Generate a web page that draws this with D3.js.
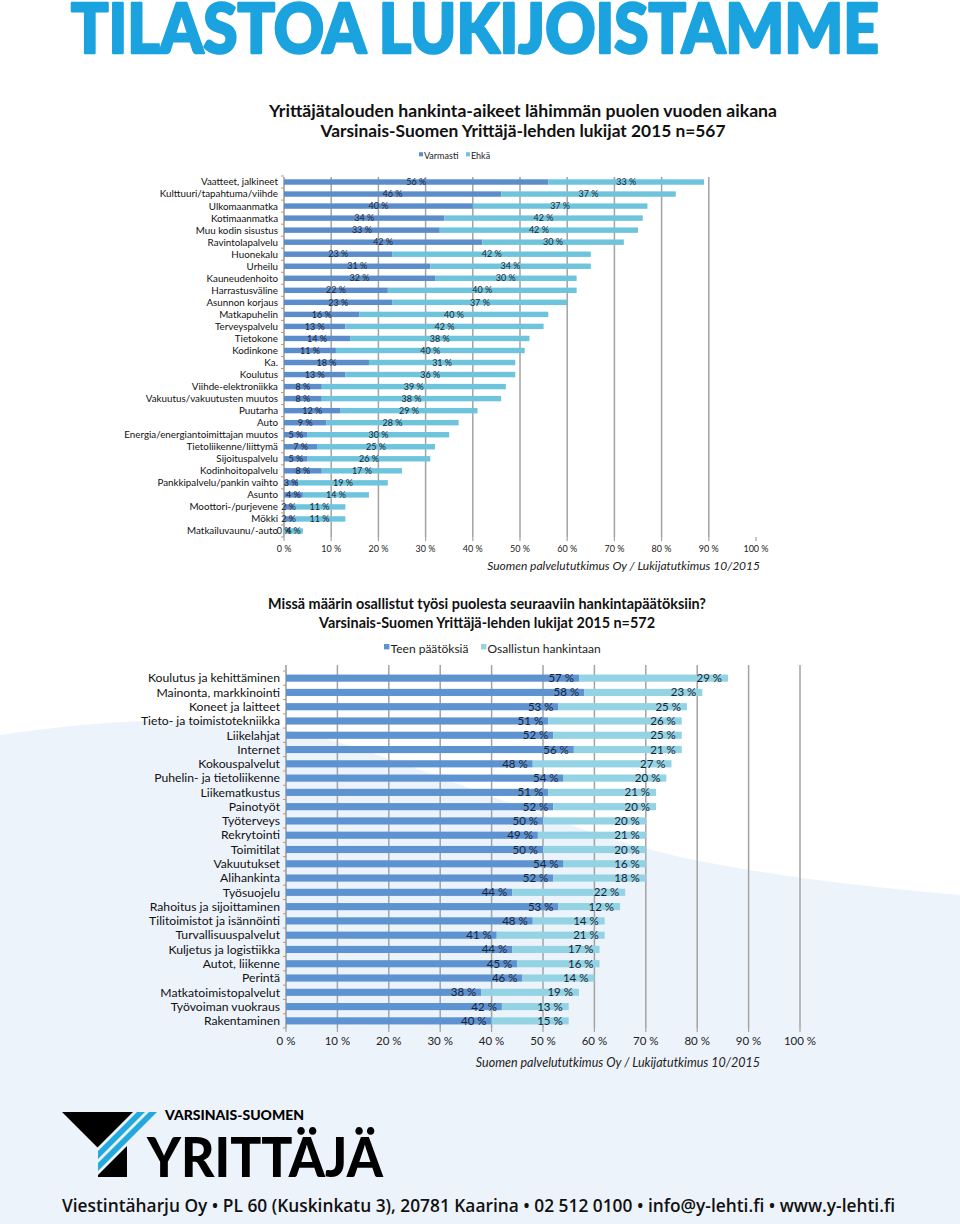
<!DOCTYPE html>
<html><head><meta charset="utf-8">
<script src="https://d3js.org/d3.v7.min.js"></script>
<style>
html,body{margin:0;padding:0;background:#fff;}
svg{display:block;}
</style></head>
<body>
<svg id="c" width="960" height="1224"></svg>
<script>
// ---------- DATA ----------
const cats1 = ["Vaatteet, jalkineet","Kulttuuri/tapahtuma/viihde","Ulkomaanmatka","Kotimaanmatka","Muu kodin sisustus","Ravintolapalvelu","Huonekalu","Urheilu","Kauneudenhoito","Harrastusväline","Asunnon korjaus","Matkapuhelin","Terveyspalvelu","Tietokone","Kodinkone","Ka.","Koulutus","Viihde-elektroniikka","Vakuutus/vakuutusten muutos","Puutarha","Auto","Energia/energiantoimittajan muutos","Tietoliikenne/liittymä","Sijoituspalvelu","Kodinhoitopalvelu","Pankkipalvelu/pankin vaihto","Asunto","Moottori-/purjevene","Mökki","Matkailuvaunu/-auto"];
const varmasti = [56,46,40,34,33,42,23,31,32,22,23,16,13,14,11,18,13,8,8,12,9,5,7,5,8,3,4,2,2,0];
const ehka     = [33,37,37,42,42,30,42,34,30,40,37,40,42,38,40,31,36,39,38,29,28,30,25,26,17,19,14,11,11,4];

const cats2 = ["Koulutus ja kehittäminen","Mainonta, markkinointi","Koneet ja laitteet","Tieto- ja toimistotekniikka","Liikelahjat","Internet","Kokouspalvelut","Puhelin- ja tietoliikenne","Liikematkustus","Painotyöt","Työterveys","Rekrytointi","Toimitilat","Vakuutukset","Alihankinta","Työsuojelu","Rahoitus ja sijoittaminen","Tilitoimistot ja isännöinti","Turvallisuuspalvelut","Kuljetus ja logistiikka","Autot, liikenne","Perintä","Matkatoimistopalvelut","Työvoiman vuokraus","Rakentaminen"];
const teen       = [57,58,53,51,52,56,48,54,51,52,50,49,50,54,52,44,53,48,41,44,45,46,38,42,40];
const osallistun = [29,23,25,26,25,21,27,20,21,20,20,21,20,16,18,22,12,14,21,17,16,14,19,13,15];

const tickValues = [0,10,20,30,40,50,60,70,80,90,100];
const tickLabels = ["0 %","10 %","20 %","30 %","40 %","50 %","60 %","70 %","80 %","90 %","100 %"];

const series1 = ["Varmasti","Ehkä"];
const series2 = ["Teen päätöksiä","Osallistun hankintaan"];
const source = "Suomen palvelututkimus Oy / Lukijatutkimus 10/2015";

// ---------- DRAW ----------
const svg = d3.select("#c");
const FONT = "Lato, 'Open Sans', sans-serif";
const TXT = "#1b2433";

// background
svg.append("rect").attr("width",960).attr("height",1224).attr("fill","#ffffff");
svg.append("path")
  .attr("d","M0,735 C120,718 230,712 330,740 C450,775 560,830 680,857 C780,878 880,888 960,895 L960,1224 L0,1224 Z")
  .attr("fill","#edf3fb");

// main heading
svg.append("text").attr("x",71).attr("y",53)
  .attr("textLength",808).attr("lengthAdjust","spacingAndGlyphs")
  .attr("font-family","Lato, Inter, sans-serif").attr("font-weight",900)
  .attr("font-size",68).attr("fill","#1aa3df")
  .attr("stroke","#1aa3df").attr("stroke-width",2.6).attr("stroke-linejoin","round")
  .text("TILASTOA LUKIJOISTAMME");

function titleLine(x, y, w, t, fs){
  svg.append("text").attr("x",x).attr("y",y).attr("text-anchor","middle")
    .attr("textLength",w).attr("lengthAdjust","spacingAndGlyphs")
    .attr("font-family",FONT).attr("font-weight",700).attr("font-size",fs)
    .attr("fill","#111").text(t);
}

function legend(y, items, xs, colors, size){
  items.forEach((it,i)=>{
    svg.append("rect").attr("x",xs[i]).attr("y",y-size*0.75).attr("width",size*0.45).attr("height",size*0.45).attr("fill",colors[i]);
    svg.append("text").attr("x",xs[i]+size*0.55).attr("y",y).attr("font-family",FONT)
      .attr("font-size",size).attr("fill","#222").text(it);
  });
}

function chart(opts){
  const {cats, a, b, x0, x1, y0, y1, colA, colB, labelFont, valFont, gridFrom, labelMode, tickY, tickFont, gridTop} = opts;
  const x = d3.scaleLinear().domain([0,100]).range([x0,x1]);
  const y = d3.scaleBand().domain(cats).range([y0,y1]).paddingInner(opts.pad).paddingOuter(opts.pad/2);
  const g = svg.append("g");
  // gridlines
  g.selectAll("line.grid").data(tickValues.filter(v=>v>=gridFrom && v<=opts.gridTo)).join("line")
    .attr("x1",d=>x(d)).attr("x2",d=>x(d)).attr("y1",gridTop).attr("y2",y1)
    .attr("stroke","#a3a3a3").attr("stroke-width",1.5);
  // bottom ticks
  g.selectAll("line.bt").data(tickValues).join("line")
    .attr("x1",d=>x(d)).attr("x2",d=>x(d)).attr("y1",y1).attr("y2",y1+4)
    .attr("stroke","#a3a3a3").attr("stroke-width",1.2);
  // left axis
  g.append("line").attr("x1",x0).attr("x2",x0).attr("y1",gridTop).attr("y2",y1)
    .attr("stroke","#9a9a9a").attr("stroke-width",1.5);
  const step = y.step();
  g.selectAll("line.lt").data(d3.range(cats.length+1)).join("line")
    .attr("x1",x0-3).attr("x2",x0).attr("y1",i=>y0+i*step).attr("y2",i=>y0+i*step)
    .attr("stroke","#b09a80").attr("stroke-width",1);
  // bars
  const rows = cats.map((c,i)=>({c, a:a[i], b:b[i]}));
  g.selectAll("rect.a").data(rows).join("rect")
    .attr("x",x(0)).attr("y",d=>y(d.c)).attr("width",d=>x(d.a)-x(0)).attr("height",y.bandwidth()).attr("fill",colA);
  g.selectAll("rect.b").data(rows).join("rect")
    .attr("x",d=>x(d.a)).attr("y",d=>y(d.c)).attr("width",d=>x(d.a+d.b)-x(d.a)).attr("height",y.bandwidth()).attr("fill",colB);
  // category labels
  g.selectAll("text.cat").data(rows).join("text")
    .attr("x",x0-6).attr("y",d=>y(d.c)+y.bandwidth()/2).attr("dy","0.35em")
    .attr("text-anchor","end").attr("font-family",FONT).attr("font-size",labelFont).attr("fill","#111")
    .text(d=>d.c);
  // value labels
  const vl = g.append("g").attr("font-family",FONT).attr("font-size",valFont).attr("fill",TXT);
  rows.forEach(d=>{
    const cy = y(d.c)+y.bandwidth()/2;
    if(labelMode==="center"){
      vl.append("text").attr("x",(x(0)+x(d.a))/2).attr("y",cy).attr("dy","0.35em").attr("text-anchor","middle").text(d.a+" %");
      vl.append("text").attr("x",(x(d.a)+x(d.a+d.b))/2).attr("y",cy).attr("dy","0.35em").attr("text-anchor","middle").text(d.b+" %");
    } else {
      vl.append("text").attr("x",x(d.a)-5).attr("y",cy).attr("dy","0.35em").attr("text-anchor","end").text(d.a+" %");
      vl.append("text").attr("x",x(d.a+d.b)-6).attr("y",cy).attr("dy","0.35em").attr("text-anchor","end").text(d.b+" %");
    }
  });
  // axis tick labels
  g.selectAll("text.tk").data(tickValues).join("text")
    .attr("x",d=>x(d)).attr("y",tickY).attr("text-anchor","middle")
    .attr("font-family",FONT).attr("font-size",tickFont).attr("fill","#222")
    .text((d,i)=>tickLabels[i]);
}

// ---- chart 1 ----
titleLine(523,117,508,"Yrittäjätalouden hankinta-aikeet lähimmän puolen vuoden aikana",17);
titleLine(523,137,405,"Varsinais-Suomen Yrittäjä-lehden lukijat 2015 n=567",17);
legend(159, series1, [419,466], ["#5b8dcb","#6ec4dc"], 9);
chart({cats:cats1, a:varmasti, b:ehka, x0:284, x1:756, y0:176, y1:537, gridTop:177,
  colA:"#5b8dcb", colB:"#6ec4dc", labelFont:9.8, valFont:9, gridFrom:10, gridTo:90,
  labelMode:"center", tickY:552, tickFont:9, pad:0.55});
svg.append("text").attr("x",760).attr("y",570).attr("text-anchor","end")
  .attr("font-family",FONT).attr("font-style","italic").attr("font-size",12).attr("fill","#222").text(source);

// ---- chart 2 ----
titleLine(487,609,438,"Missä määrin osallistut työsi puolesta seuraaviin hankintapäätöksiin?",16);
titleLine(487,628,336,"Varsinais-Suomen  Yrittäjä-lehden lukijat 2015 n=572",16);
legend(653, series2, [384,481], ["#5e93d1","#93d3e3"], 12);
chart({cats:cats2, a:teen, b:osallistun, x0:286, x1:800, y0:671, y1:1028, gridTop:665,
  colA:"#5e93d1", colB:"#93d3e3", labelFont:12.2, valFont:11.5, gridFrom:10, gridTo:100,
  labelMode:"end", tickY:1045, tickFont:11.5, pad:0.5});
svg.append("text").attr("x",760).attr("y",1067).attr("text-anchor","end")
  .attr("font-family",FONT).attr("font-style","italic").attr("font-size",12.5).attr("fill","#222").text(source);

// ---- logo ----
const logo = svg.append("g");
logo.append("polygon").attr("points","62,1112 133,1112 97.5,1147.5").attr("fill","#000");
logo.append("polygon").attr("points","137,1112 145,1112 98,1159 98,1151").attr("fill","#23a9dd");
logo.append("polygon").attr("points","149,1112 157,1112 98,1171 98,1163").attr("fill","#23a9dd");
logo.append("polygon").attr("points","98,1175 127,1146 127,1177 98,1177").attr("fill","#000");
logo.append("text").attr("x",165).attr("y",1120).attr("textLength",139).attr("lengthAdjust","spacingAndGlyphs")
  .attr("font-family",FONT).attr("font-weight",900).attr("font-size",14).attr("fill","#000").text("VARSINAIS-SUOMEN");
logo.append("text").attr("x",147).attr("y",1177).attr("textLength",236).attr("lengthAdjust","spacingAndGlyphs")
  .attr("font-family",FONT).attr("font-weight",900).attr("font-size",56).attr("fill","#000").text("YRITTÄJÄ");

// footer
svg.append("text").attr("x",62).attr("y",1212).attr("textLength",833).attr("lengthAdjust","spacingAndGlyphs")
  .attr("font-family","'Open Sans', Lato, sans-serif").attr("font-weight",600).attr("font-size",18).attr("fill","#111")
  .text("Viestintäharju Oy • PL 60 (Kuskinkatu 3), 20781 Kaarina • 02 512 0100 • info@y-lehti.fi • www.y-lehti.fi");
</script>
</body></html>
